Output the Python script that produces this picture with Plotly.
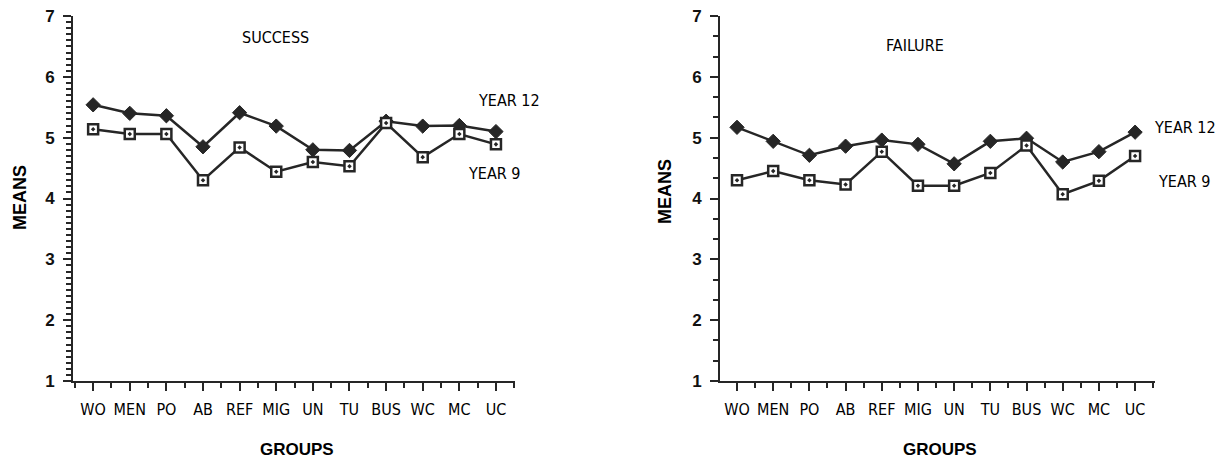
import plotly.graph_objects as go

groups = ["WO", "MEN", "PO", "AB", "REF", "MIG", "UN", "TU", "BUS", "WC", "MC", "UC"]

success_year12 = [5.54, 5.40, 5.36, 4.85, 5.41, 5.19, 4.80, 4.79, 5.27, 5.19, 5.20, 5.10]
success_year9 = [5.14, 5.06, 5.06, 4.30, 4.84, 4.44, 4.60, 4.53, 5.24, 4.68, 5.06, 4.89]

failure_year12 = [5.17, 4.94, 4.71, 4.86, 4.96, 4.89, 4.57, 4.94, 4.99, 4.60, 4.77, 5.09]
failure_year9 = [4.30, 4.45, 4.30, 4.23, 4.77, 4.21, 4.21, 4.42, 4.87, 4.07, 4.29, 4.70]

W, H = 1229, 461
INK = "#262626"
FONT = "Liberation Sans, Arial, sans-serif"
COND = "DejaVu Sans Condensed, Liberation Sans Narrow, Arial Narrow, sans-serif"

x_idx = list(range(len(groups)))

fig = go.Figure()


def add_panel(xa, ya, y12, y9):
    fig.add_trace(go.Scatter(
        x=x_idx, y=y12, xaxis=xa, yaxis=ya, mode="lines+markers",
        line=dict(color=INK, width=2.5),
        marker=dict(symbol="diamond", size=11, color=INK, line=dict(color=INK, width=1)),
        showlegend=False, name="YEAR 12"))
    fig.add_trace(go.Scatter(
        x=x_idx, y=y9, xaxis=xa, yaxis=ya, mode="lines+markers",
        line=dict(color=INK, width=2.5),
        marker=dict(symbol="square-dot", size=10, color="white", line=dict(color=INK, width=2.5)),
        showlegend=False, name="YEAR 9"))


add_panel("x", "y", success_year12, success_year9)
add_panel("x2", "y2", failure_year12, failure_year9)

y_bottom = 1 - 381 / H
y_top = 1 - 16 / H

# minor tick positions along the axes
x_minor = [i + 0.5 for i in range(-1, 12)]
y_minor_fine = [1 + k / 10 for k in range(61) if k % 10]
y_minor_third = [1 + k / 3 for k in range(19) if k % 3]

xaxis_common = dict(
    tickmode="array", tickvals=x_idx, ticktext=groups, automargin=False,
    showgrid=False, zeroline=False, showline=True, linecolor=INK, linewidth=2,
    ticks="outside", ticklen=8, tickwidth=2, tickcolor=INK,
    ticklabelstandoff=5,
    tickfont=dict(family=COND, size=16, color="#000"),
    minor=dict(tickmode="array", tickvals=x_minor, ticks="outside", ticklen=5,
               tickwidth=2, tickcolor=INK, showgrid=False),
)
yaxis_common = dict(
    range=[1, 7], tickmode="linear", tick0=1, dtick=1, automargin=False,
    showgrid=False, zeroline=False, showline=True, linecolor=INK, linewidth=2,
    ticks="outside", ticklen=8, tickwidth=2, tickcolor=INK,
    ticklabelstandoff=5,
    tickfont=dict(family=FONT, size=17, color="#111", weight="bold"),
)

fig.update_layout(
    width=W, height=H, template="none",
    margin=dict(l=0, r=0, t=0, b=0, pad=0),
    paper_bgcolor="white", plot_bgcolor="white",
    xaxis=dict(domain=[73 / W, 515 / W], range=[-0.55, 11.52], anchor="y", **xaxis_common),
    yaxis=dict(domain=[y_bottom, y_top], anchor="x",
               minor=dict(tickmode="array", tickvals=y_minor_fine, ticks="outside", ticklen=5,
                          tickwidth=1.5, tickcolor=INK, showgrid=False),
               **yaxis_common),
    xaxis2=dict(domain=[720 / W, 1155 / W], range=[-0.47, 11.55], anchor="y2", **xaxis_common),
    yaxis2=dict(domain=[y_bottom, y_top], anchor="x2",
                minor=dict(tickmode="array", tickvals=y_minor_third, ticks="outside", ticklen=5,
                           tickwidth=2, tickcolor=INK, showgrid=False),
                **yaxis_common),
)


def label(text, px, py, size, bold=False, family=FONT, angle=0, xanchor="center"):
    fig.add_annotation(
        text=f"<b>{text}</b>" if bold else text,
        x=px / W, y=1 - py / H, xref="paper", yref="paper",
        xanchor=xanchor, yanchor="middle", showarrow=False, textangle=angle,
        font=dict(family=family, size=size, color="#000"))


# panel titles
label("SUCCESS", 275, 37, 16, family=COND)
label("FAILURE", 915, 45, 16, family=COND)

# series labels
label("YEAR 12", 476, 100, 16, family=COND, xanchor="left")
label("YEAR 9", 466, 173, 16, family=COND, xanchor="left")
label("YEAR 12", 1152, 128, 16, family=COND, xanchor="left")
label("YEAR 9", 1156, 181, 16, family=COND, xanchor="left")

# axis titles
label("MEANS", 20, 198, 18, bold=True, angle=-90)
label("MEANS", 665, 192, 18, bold=True, angle=-90)
label("GROUPS", 297, 449, 17, bold=True)
label("GROUPS", 940, 449, 17, bold=True)

fig.write_html("out.html")
